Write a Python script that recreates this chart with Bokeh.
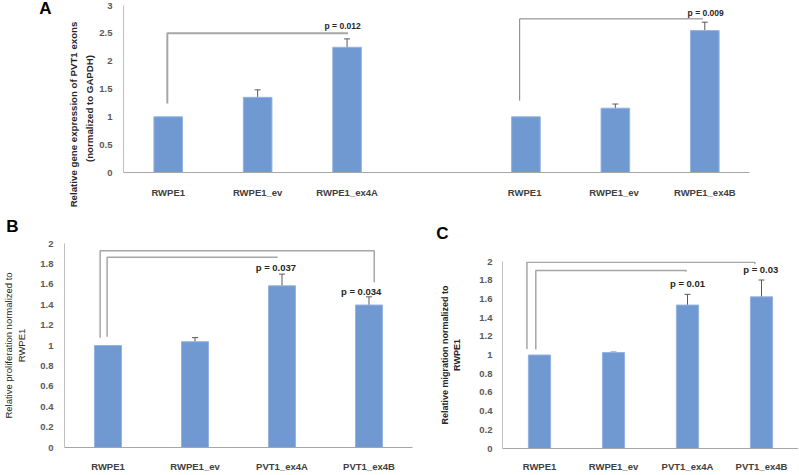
import math
from bokeh.plotting import figure
from bokeh.layouts import column, row
from bokeh.models import (ColumnDataSource, FactorRange, Range1d, FixedTicker,
                          CustomJSTickFormatter, Whisker, TeeHead)
from bokeh.core.properties import value
from bokeh.embed import file_html
from bokeh.resources import INLINE

# ---------------- data ----------------
# Panel A (7 slots, the 4th is an empty spacer between the two groups)
a_cats = ["RWPE1", "RWPE1_ev", "RWPE1_ex4A", " ", "RWPE1 ", "RWPE1_ev ", "RWPE1_ex4B"]
a_bar_idx = [0, 1, 2, 4, 5, 6]
a_values = [1.0, 1.35, 2.25, 1.0, 1.155, 2.55]
a_errors = [0.0, 0.135, 0.15, 0.0, 0.075, 0.15]
a_ticks = [0, 0.5, 1, 1.5, 2, 2.5, 3]
a_ylabel = ["Relative gene expression of PVT1 exons", "(normalized to GAPDH)"]
a_pvals = ["p = 0.012", "p = 0.009"]
a_p_x = [2.45, 6.51]
a_p_y = [2.64, 2.87]
# brackets: left x, right x, top y, left-leg bottom, right-leg bottom
a_brk_x0 = [0.49, 4.43]
a_brk_x1 = [2.51, 6.48]
a_brk_y = [2.5, 2.76]
a_brk_yl = [1.24, 1.29]
a_brk_yr = [2.5, 2.76]

# Panel B
b_cats = ["RWPE1", "RWPE1_ev", "PVT1_ex4A", "PVT1_ex4B"]
b_values = [1.0, 1.037, 1.585, 1.397]
b_errors = [0.0, 0.04, 0.115, 0.08]
b_ticks = [0, 0.2, 0.4, 0.6, 0.8, 1, 1.2, 1.4, 1.6, 1.8, 2]
b_ylabel = "Relative proliferation normalized to\nRWPE1"
b_pvals = ["p = 0.037", "p = 0.034"]
b_p_x = [2.43, 3.41]
b_p_y = [1.76, 1.53]
b_brk_x0 = [0.41, 0.49]
b_brk_x1 = [3.56, 2.45]
b_brk_y = [1.93, 1.864]
b_brk_yl = [1.076, 1.086]
b_brk_yr = [1.62, 1.864]

# Panel C
c_cats = ["RWPE1", "RWPE1_ev", "PVT1_ex4A", "PVT1_ex4B"]
c_values = [1.0, 1.026, 1.534, 1.622]
c_errors = [0.0, 0.005, 0.115, 0.18]
c_ticks = [0, 0.2, 0.4, 0.6, 0.8, 1, 1.2, 1.4, 1.6, 1.8, 2]
c_ylabel = "Relative migration normalized to\nRWPE1"
c_pvals = ["p = 0.01", "p = 0.03"]
c_p_x = [2.50, 3.49]
c_p_y = [1.77, 1.915]
c_brk_x0 = [0.33, 0.45]
c_brk_x1 = [3.41, 2.48]
c_brk_y = [1.993, 1.905]
c_brk_yl = [1.065, 1.058]
c_brk_yr = [1.97, 1.89]

# ---------------- style ----------------
FONT = "Liberation Sans"
BAR = "#7099d2"
BAR_EDGE = "#93b3e0"
TXT = "#262626"
TICK_TXT = "#595959"

fmt = CustomJSTickFormatter(code="return String(Math.round(tick*10)/10);")


def style(p, ticks, tick_size, x_standoff, y_standoff):
    p.xgrid.grid_line_color = None
    p.ygrid.grid_line_color = None
    p.outline_line_color = None
    p.background_fill_color = "white"
    p.border_fill_color = "white"
    p.frame_align = False
    p.yaxis.ticker = FixedTicker(ticks=ticks)
    p.yaxis.formatter = fmt
    for ax in (p.xaxis[0], p.yaxis[0]):
        ax.major_tick_line_color = None
        ax.minor_tick_line_color = None
        ax.major_tick_out = 0
        ax.major_tick_in = 0
        ax.minor_tick_out = 0
        ax.major_label_text_font = FONT
        ax.major_label_text_font_style = "bold"
        ax.axis_label_text_font = FONT
        ax.axis_label_text_color = TXT
    p.yaxis.major_label_text_font_size = tick_size
    p.yaxis.major_label_text_color = TICK_TXT
    p.xaxis.major_label_text_font_size = "9.5px"
    p.xaxis.major_label_text_color = "#404040"
    p.xaxis.axis_line_color = "#a6a6a6"
    p.yaxis.axis_line_color = "#bfbfbf"
    p.xaxis.major_label_standoff = x_standoff
    p.yaxis.major_label_standoff = y_standoff


def stub(width, height):
    s = figure(width=width, height=height, x_range=Range1d(0, width),
               y_range=Range1d(height, 0), output_backend="svg", toolbar_location=None,
               x_axis_location=None, y_axis_location=None,
               min_border_left=0, min_border_right=0, min_border_top=0, min_border_bottom=0)
    s.xgrid.grid_line_color = None
    s.ygrid.grid_line_color = None
    s.outline_line_color = None
    s.frame_align = False
    return s


def stub_text(s, texts, xs, ys, size, style_, angle=0.0, color=TXT):
    src = ColumnDataSource(dict(x=xs, y=ys, t=texts))
    s.text(x="x", y="y", text="t", source=src, angle=angle, text_align="center",
           text_baseline="middle", text_font=value(FONT), text_font_style=style_,
           text_font_size=size, text_color=color)


def add_bars(p, xs, vals, errs, width):
    src = ColumnDataSource(dict(x=[x + 0.5 for x in xs], top=vals))
    p.vbar(x="x", top="top", bottom=0, width=width, source=src,
           fill_color=BAR, line_color=BAR_EDGE, line_width=1)
    ex = [x + 0.5 for x, e in zip(xs, errs) if e > 0]
    up = [v + e for v, e in zip(vals, errs) if e > 0]
    lo = [v - e for v, e in zip(vals, errs) if e > 0]
    wsrc = ColumnDataSource(dict(base=ex, upper=up, lower=lo))
    w = Whisker(base="base", upper="upper", lower="lower", source=wsrc,
                line_color="#595959", line_width=1,
                upper_head=TeeHead(size=6, line_color="#595959", line_width=1),
                lower_head=TeeHead(size=6, line_color="#595959", line_width=1))
    p.add_layout(w)


def add_brackets(p, x0, x1, y, yl, yr, color, widths):
    for i in range(len(x0)):
        p.line([x0[i], x0[i], x1[i], x1[i]], [yl[i], y[i], y[i], yr[i]],
               line_color=color[i], line_width=widths[i])


def add_ptext(p, texts, xs, ys, size):
    src = ColumnDataSource(dict(x=xs, y=ys, t=texts))
    p.text(x="x", y="y", text="t", source=src, text_align="center",
           text_baseline="middle", text_font=value(FONT), text_font_style="bold",
           text_font_size=size, text_color=TXT)


# ---------------- panel A ----------------
sA = stub(96, 212)
stub_text(sA, ["A"], [45], [8], "17px", "bold", color="black")
stub_text(sA, a_ylabel, [73, 89], [114, 108], "9.7px", "bold", angle=math.pi / 2)

pA = figure(width=702, height=212, x_range=FactorRange(*a_cats), y_range=Range1d(0, 3),
            output_backend="svg", toolbar_location=None,
            min_border_left=27, min_border_right=49, min_border_top=5, min_border_bottom=40)
style(pA, a_ticks, "9.5px", 14, 11)
add_brackets(pA, a_brk_x0, a_brk_x1, a_brk_y, a_brk_yl, a_brk_yr,
             ["#a6a6a6", "#7f7f7f"], [2, 1])
add_bars(pA, a_bar_idx, a_values, a_errors, 0.32)
add_ptext(pA, a_pvals, a_p_x, a_p_y, "8.5px")

# ---------------- panel B ----------------
sB = stub(420, 23)
stub_text(sB, ["B"], [12], [14], "17px", "bold", color="black")

pB = figure(width=420, height=239, x_range=FactorRange(*b_cats), y_range=Range1d(0, 2),
            output_backend="svg", toolbar_location=None,
            min_border_left=64, min_border_right=8, min_border_top=8, min_border_bottom=25)
style(pB, b_ticks, "9.5px", 13, 11)
pB.yaxis.axis_label = b_ylabel
pB.yaxis.axis_label_text_font_size = "9.5px"
pB.yaxis.axis_label_text_font_style = "normal"
pB.yaxis.axis_label_standoff = 10
add_brackets(pB, b_brk_x0, b_brk_x1, b_brk_y, b_brk_yl, b_brk_yr,
             ["#a6a6a6", "#a6a6a6"], [1.5, 1.5])
add_bars(pB, list(range(4)), b_values, b_errors, 0.31)
add_ptext(pB, b_pvals, b_p_x, b_p_y, "9.5px")

# ---------------- panel C ----------------
sC = stub(378, 33)
stub_text(sC, ["C"], [22], [21], "17px", "bold", color="black")

pC = figure(width=378, height=229, x_range=FactorRange(*c_cats), y_range=Range1d(0, 2),
            output_backend="svg", toolbar_location=None,
            min_border_left=82, min_border_right=0, min_border_top=16, min_border_bottom=24)
style(pC, c_ticks, "9.5px", 12, 10)
pC.yaxis.axis_label = c_ylabel
pC.yaxis.axis_label_text_font_size = "9px"
pC.yaxis.axis_label_text_font_style = "bold"
pC.yaxis.axis_label_standoff = 14
add_brackets(pC, c_brk_x0, c_brk_x1, c_brk_y, c_brk_yl, c_brk_yr,
             ["#a6a6a6", "#a6a6a6"], [1.5, 1.5])
add_bars(pC, list(range(4)), c_values, c_errors, 0.30)
add_ptext(pC, c_pvals, c_p_x, c_p_y, "9.5px")

layout = column(row(sA, pA), row(column(sB, pB), column(sC, pC)))
open("out.html", "w").write(file_html(layout, INLINE))
